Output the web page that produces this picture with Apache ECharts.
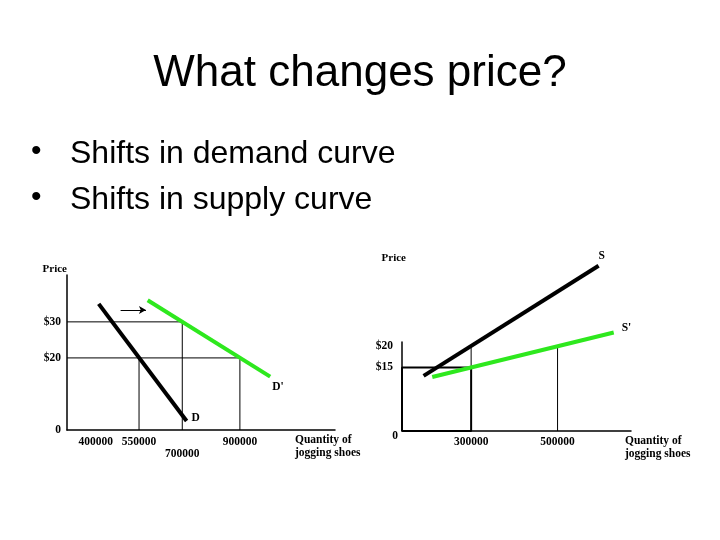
<!DOCTYPE html>
<html>
<head>
<meta charset="utf-8">
<script src="https://cdn.jsdelivr.net/npm/echarts@6/dist/echarts.min.js"></script>
<style>html,body{margin:0;padding:0;background:#fff}#c{width:720px;height:540px}</style>
</head>
<body>
<div id="c"></div>
<script>
// ---- text ----
const slideTitle = 'What changes price?';
const bullets = ['Shifts in demand curve', 'Shifts in supply curve'];

// ---- demand chart (left) ----
const demandQty = [410000, 715000];
const demandPrice = [35, 2.5];
const demandShiftQty = [580000, 1005000];
const demandShiftPrice = [36, 14.8];
const demandGuideA = [[300000, 30], [700000, 30], [700000, 0]];
const demandGuideB = [[300000, 20], [900000, 20], [900000, 0]];
const demandGuideC = [[550000, 20], [550000, 0]];
const demandArrow = [[486000, 33.3], [574000, 33.3]];
const demandXTicks = [400000, 550000, 700000, 900000];
const demandYTicks = [0, 20, 30];
const demandYLabels = ['0', '$20', '$30'];

// ---- supply chart (right) ----
const supplyQty = [190000, 595000];
const supplyPrice = [13, 39];
const supplyShiftQty = [210000, 630000];
const supplyShiftPrice = [12.75, 23.25];
const supplyBox = [[140000, 0], [140000, 15], [300000, 15], [300000, 0], [140000, 0]];
const supplyGuideA = [[300000, 15], [300000, 20]];
const supplyGuideB = [[500000, 0], [500000, 20]];
const supplyArrow = [[460000, 28.8], [593000, 28.8]];
const supplyXTicks = [300000, 500000];
const supplyYTicks = [0, 15, 20];
const supplyYLabels = ['0', '$15', '$20'];

const serif = '"Liberation Serif", "DejaVu Serif", serif';
const small = {fontFamily: serif, fontWeight: 'bold', fontSize: 11.5, color: '#000'};
const green = '#2ee81e';

function zip(xs, ys) { return xs.map((x, i) => [x, ys[i]]); }
function yFmt(ticks, labels) { return v => { const i = ticks.indexOf(v); return i >= 0 ? labels[i] : ''; }; }

function curve(name, data, color, xi, label, offset) {
  return {
    type: 'line', name, xAxisIndex: xi, yAxisIndex: xi, data, clip: false,
    symbol: 'none', lineStyle: {color, width: 4}, silent: true,
    endLabel: {show: true, formatter: label, ...small, offset: offset || [0, 0]}
  };
}
function guide(data, xi, w) {
  return {type: 'line', xAxisIndex: xi, yAxisIndex: xi, data, symbol: 'none', silent: true,
          lineStyle: {color: '#000', width: w || 1}};
}
function arrow(pts, xi) {
  return {type: 'line', xAxisIndex: xi, yAxisIndex: xi, data: [], silent: true,
    markLine: {silent: true, symbol: ['none', 'arrow'], symbolSize: [6, 7], label: {show: false},
      lineStyle: {color: '#000', width: 1, type: 'solid'},
      data: [[{coord: pts[0]}, {coord: pts[1]}]]}};
}

const chart = echarts.init(document.getElementById('c'), null, {renderer: 'canvas'});
chart.setOption({
  animation: false,
  backgroundColor: '#fff',
  title: {text: slideTitle, left: 'center', top: 47,
    textStyle: {fontFamily: '"Liberation Sans", Arial, sans-serif', fontSize: 44, fontWeight: 'normal', color: '#000'}},
  graphic: [
    {type: 'text', left: 31, top: 137, style: {text: '•', font: '30px "Liberation Sans"', fill: '#000'}},
    {type: 'text', left: 70, top: 138, style: {text: bullets[0], font: '32px "Liberation Sans"', fill: '#000'}},
    {type: 'text', left: 31, top: 183, style: {text: '•', font: '30px "Liberation Sans"', fill: '#000'}},
    {type: 'text', left: 70, top: 184, style: {text: bullets[1], font: '32px "Liberation Sans"', fill: '#000'}}
  ],
  grid: [
    {left: 67, top: 275, width: 268, height: 155},
    {left: 402, top: 342, width: 229, height: 89}
  ],
  xAxis: [
    {type: 'value', gridIndex: 0, min: 300000, max: 1230000,
     name: 'Quantity of\njogging shoes', nameLocation: 'end', nameGap: -40,
     nameTextStyle: {...small, align: 'left', verticalAlign: 'top', lineHeight: 13.5, padding: [3, 0, 0, 0]},
     axisLine: {lineStyle: {color: '#000', width: 1.5}}, axisTick: {show: false}, splitLine: {show: false},
     axisLabel: {customValues: demandXTicks, margin: 6, ...small,
       formatter: v => v === 700000 ? '{lo|' + v + '}' : String(v),
       rich: {lo: {...small, padding: [12, 0, 0, 0]}}}},
    {type: 'value', gridIndex: 1, min: 140000, max: 670000,
     name: 'Quantity of\njogging shoes', nameLocation: 'end', nameGap: -6,
     nameTextStyle: {...small, align: 'left', verticalAlign: 'top', lineHeight: 13.5, padding: [3, 0, 0, 0]},
     axisLine: {lineStyle: {color: '#000', width: 1.5}}, axisTick: {show: false}, splitLine: {show: false},
     axisLabel: {customValues: supplyXTicks, margin: 5, ...small, formatter: v => String(v)}}
  ],
  yAxis: [
    {type: 'value', gridIndex: 0, min: 0, max: 43, name: 'Price', nameGap: 0,
     nameTextStyle: {...small, align: 'right', fontSize: 11},
     axisLine: {show: true, lineStyle: {color: '#000', width: 1.5}}, axisTick: {show: false}, splitLine: {show: false},
     axisLabel: {customValues: demandYTicks, formatter: yFmt(demandYTicks, demandYLabels), margin: 6, ...small}},
    {type: 'value', gridIndex: 1, min: 0, max: 21, name: 'Price', nameGap: 78,
     nameTextStyle: {...small, align: 'right', fontSize: 11, padding: [0, -4, 0, 0]},
     axisLine: {show: true, lineStyle: {color: '#000', width: 1.5}}, axisTick: {show: false}, splitLine: {show: false},
     axisLabel: {customValues: supplyYTicks, formatter: v => v === 0 ? '{z|0}' : yFmt(supplyYTicks, supplyYLabels)(v),
       margin: 9, ...small, rich: {z: {...small, padding: [10, -5, 0, 0]}}}}
  ],
  series: [
    guide(demandGuideA, 0), guide(demandGuideB, 0), guide(demandGuideC, 0),
    curve('D', zip(demandQty, demandPrice), '#000', 0, 'D', [-3, -3]),
    curve("D'", zip(demandShiftQty, demandShiftPrice), green, 0, "D'", [-6, 10]),
    arrow(demandArrow, 0),
    guide(supplyBox, 1, 2), guide(supplyGuideA, 1), guide(supplyGuideB, 1),
    curve('S', zip(supplyQty, supplyPrice), '#000', 1, 'S', [-8, -10]),
    curve("S'", zip(supplyShiftQty, supplyShiftPrice), green, 1, "S'", [0, -4]),
    arrow(supplyArrow, 1)
  ]
});
</script>
</body>
</html>
